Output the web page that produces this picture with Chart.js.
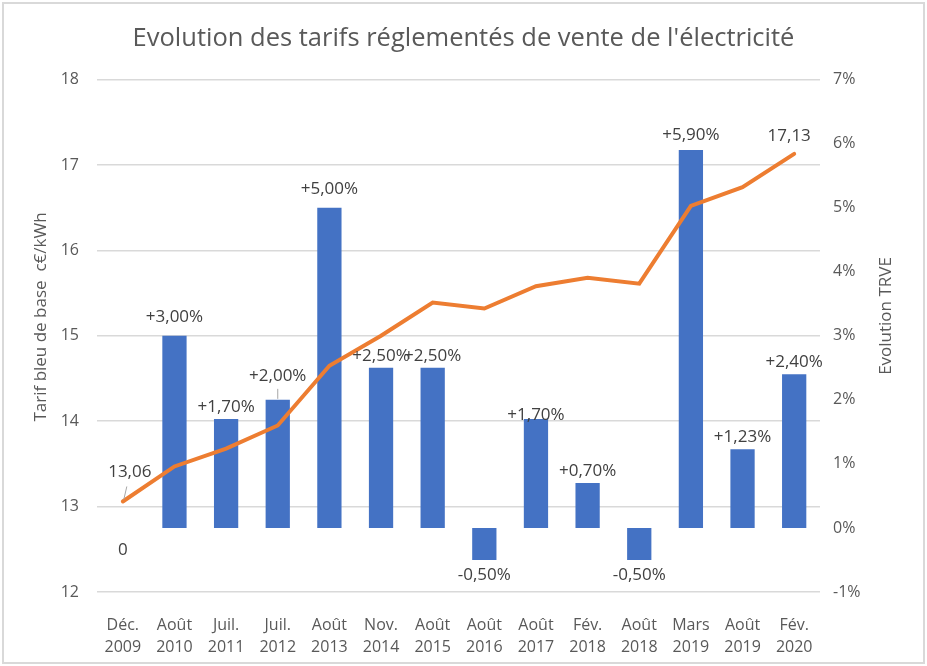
<!DOCTYPE html>
<html lang="fr">
<head>
<meta charset="utf-8">
<title>Evolution des tarifs réglementés de vente de l'électricité</title>
<script src="https://cdn.jsdelivr.net/npm/chart.js@4/dist/chart.umd.min.js"></script>
<style>
  html, body { margin: 0; padding: 0; background: #fff; }
  #wrap { width: 927px; height: 666px; }
</style>
</head>
<body>
<div id="wrap"><canvas id="chart" width="927" height="666"></canvas></div>
<script>
'use strict';

// Data
const labels = [
  ['Déc.', '2009'], ['Août', '2010'], ['Juil.', '2011'], ['Juil.', '2012'],
  ['Août', '2013'], ['Nov.', '2014'], ['Août', '2015'], ['Août', '2016'],
  ['Août', '2017'], ['Fév.', '2018'], ['Août', '2018'], ['Mars', '2019'],
  ['Août', '2019'], ['Fév.', '2020'],
];
const evolutionPct = [0, 3.0, 1.7, 2.0, 5.0, 2.5, 2.5, -0.5, 1.7, 0.7, -0.5, 5.9, 1.23, 2.4];
const tarifBleu   = [13.06, 13.47, 13.68, 13.95, 14.65, 15.0, 15.39, 15.32, 15.58, 15.68, 15.61, 16.52, 16.74, 17.13];
const leftTicks   = { min: 12, max: 18, step: 1 };
const rightTicks  = { min: -1, max: 7, step: 1 };

const FONT = "'Open Sans', 'Noto Sans', sans-serif";
const AXIS_GREY = '#595959';
const LABEL_GREY = '#404040';

const frFixed = (v, d) => v.toFixed(d).replace('.', ',');
const pctLabel = (v) => (v === 0 ? '0' : (v > 0 ? '+' : '') + frFixed(v, 2) + '%');

// border, axis titles and data labels
const decorations = {
  id: 'decorations',
  beforeDraw(chart) {
    const { ctx, width, height } = chart;
    ctx.save();
    ctx.strokeStyle = '#d9d9d9';
    ctx.lineWidth = 2;
    ctx.strokeRect(3, 3, width - 6, height - 6);
    ctx.restore();
  },
  afterDraw(chart, args, opts) {
    const { ctx } = chart;
    ctx.save();
    ctx.fillStyle = AXIS_GREY;
    ctx.font = `17px ${FONT}`;
    ctx.textAlign = 'center';
    ctx.textBaseline = 'middle';
    for (const t of opts.axisTitles) {
      ctx.save();
      ctx.translate(t.x, t.y);
      ctx.rotate(-Math.PI / 2);
      ctx.fillText(t.text, 0, 0);
      ctx.restore();
    }
    ctx.restore();
  },
  afterDatasetsDraw(chart, args, opts) {
    const { ctx } = chart;
    ctx.save();
    ctx.font = `17px ${FONT}`;
    ctx.fillStyle = LABEL_GREY;
    ctx.textAlign = 'center';
    ctx.textBaseline = 'middle';
    ctx.strokeStyle = '#a6a6a6';
    ctx.lineWidth = 1;

    // bar labels
    const bars = chart.getDatasetMeta(1).data;
    bars.forEach((el, i) => {
      const v = evolutionPct[i];
      const nudge = opts.barNudge[i] || 0;
      let y;
      if (v > 0) y = el.y - 12 + nudge;
      else y = Math.max(el.y, el.base) + 15 + nudge;
      ctx.fillText(pctLabel(v), el.x, y);
      if (opts.barLeader.includes(i)) {
        ctx.beginPath();
        ctx.moveTo(el.x, el.y - 1);
        ctx.lineTo(el.x, y + 13);
        ctx.stroke();
      }
    });

    // line labels (first and last point only)
    const pts = chart.getDatasetMeta(0).data;
    opts.lineLabels.forEach((l) => {
      const p = pts[l.index];
      const tx = p.x + l.dx;
      const ty = p.y + l.dy;
      if (l.leader) {
        ctx.beginPath();
        ctx.moveTo(p.x + 1, p.y - 2);
        ctx.lineTo(tx - 3, ty + 14);
        ctx.stroke();
      }
      ctx.fillText(frFixed(tarifBleu[l.index], 2), tx, ty);
    });
    ctx.restore();
  },
};

const ctx = document.getElementById('chart').getContext('2d');
new Chart(ctx, {
  data: {
    labels,
    datasets: [
      {
        type: 'line',
        label: 'Tarif bleu de base',
        data: tarifBleu,
        yAxisID: 'y',
        borderColor: '#ed7d31',
        borderWidth: 4,
        pointRadius: 0,
        tension: 0,
        borderCapStyle: 'round',
        order: 0,
      },
      {
        type: 'bar',
        label: 'Evolution TRVE',
        data: evolutionPct,
        yAxisID: 'y1',
        backgroundColor: '#4472c4',
        barPercentage: 0.47,
        categoryPercentage: 1,
        order: 1,
      },
    ],
  },
  options: {
    responsive: false,
    animation: false,
    layout: { padding: 0 },
    plugins: {
      legend: { display: false },
      tooltip: { enabled: false },
      title: {
        display: true,
        text: "Evolution des tarifs réglementés de vente de l'électricité",
        color: AXIS_GREY,
        font: { family: FONT, size: 25.5, weight: 'normal' },
        padding: { top: 23, bottom: 26 },
      },
      decorations: {
        axisTitles: [
          { text: 'Tarif bleu de base  c€/kWh', x: 41, y: 317 },
          { text: 'Evolution TRVE', x: 886, y: 316 },
        ],
        barNudge: { 0: 7, 1: -7, 3: -12, 4: -7, 8: 8, 11: -3 },
        barLeader: [3],
        lineLabels: [
          { index: 0, dx: 7, dy: -29, leader: true },
          { index: tarifBleu.length - 1, dx: -5, dy: -18 },
        ],
      },
    },
    scales: {
      x: {
        grid: { display: false },
        border: { display: false },
        ticks: {
          color: AXIS_GREY,
          font: { family: FONT, size: 16, lineHeight: 1.4 },
          padding: 14,
          maxRotation: 0,
          autoSkip: false,
        },
        afterFit: (s) => { s.height = 74; },
      },
      y: {
        position: 'left',
        min: leftTicks.min,
        max: leftTicks.max,
        ticks: {
          stepSize: leftTicks.step,
          color: AXIS_GREY,
          font: { family: FONT, size: 16 },
          padding: 18,
        },
        grid: { color: '#d9d9d9', lineWidth: 1.5, drawTicks: false },
        border: { display: false },
        afterFit: (s) => { s.width = 97; },
      },
      y1: {
        position: 'right',
        min: rightTicks.min,
        max: rightTicks.max,
        ticks: {
          stepSize: rightTicks.step,
          color: AXIS_GREY,
          font: { family: FONT, size: 16 },
          padding: 13,
          callback: (v) => v + '%',
        },
        grid: { display: false, drawTicks: false },
        border: { display: false },
        afterFit: (s) => { s.width = 107; },
      },
    },
  },
  plugins: [decorations],
});
</script>
</body>
</html>
